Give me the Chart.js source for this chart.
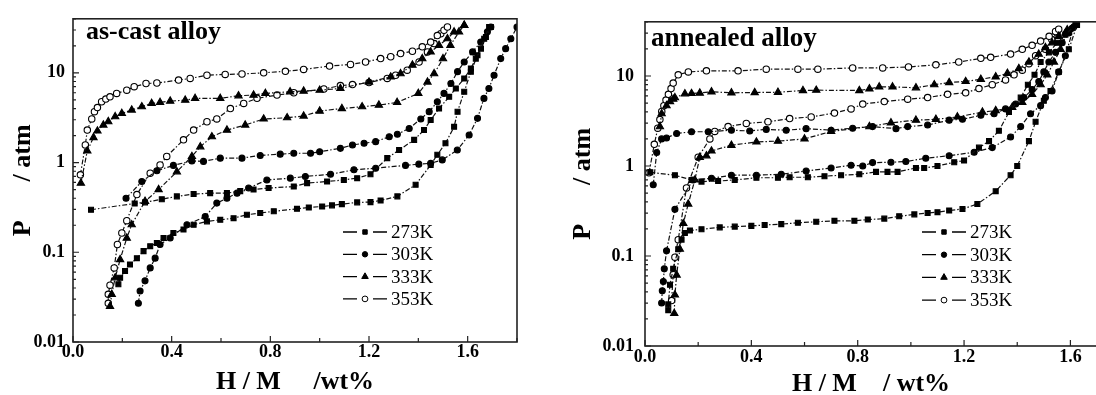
<!DOCTYPE html>
<html><head><meta charset="utf-8">
<script src="https://cdn.jsdelivr.net/npm/chart.js@4.4.1/dist/chart.umd.min.js"></script>
<style>
html,body{margin:0;padding:0;background:#fff;overflow:hidden;width:1096px;height:395px;position:relative;}
#c1{position:absolute;left:0;top:0;width:540px;height:395px;}
#c2{position:absolute;left:545px;top:0;width:560px;height:395px;}
</style></head><body>
<canvas id="c1" width="540" height="395"></canvas>
<canvas id="c2" width="560" height="395"></canvas>
<script>
// ---------- data: [H/M wt%, P atm] ----------
const temps = ['273K', '303K', '333K', '353K'];
const yTickValues = [0.01, 0.1, 1, 10];
const xTickValues = [0, 0.4, 0.8, 1.2, 1.6];

// as-cast alloy
const cast273Abs = [[0.073,0.298],[0.25,0.35],[0.292,0.36],[0.36,0.39],[0.421,0.42],[0.489,0.445],[0.556,0.456],[0.624,0.456],[0.678,0.48],[0.732,0.50],[0.793,0.52],[0.895,0.54],[0.949,0.59],[1.03,0.615],[1.098,0.64],[1.152,0.67],[1.206,0.74],[1.274,1.12],[1.322,1.38],[1.383,1.79],[1.423,2.3],[1.45,2.98],[1.484,4.0],[1.525,5.4],[1.552,6.7],[1.586,8.65],[1.613,11.2],[1.633,14.4],[1.654,18.6],[1.674,25.1],[1.694,32.4]];
const cast273Des = [[0.184,0.044],[0.191,0.052],[0.211,0.062],[0.231,0.073],[0.259,0.086],[0.286,0.103],[0.313,0.117],[0.34,0.127],[0.367,0.144],[0.407,0.164],[0.448,0.179],[0.489,0.203],[0.543,0.221],[0.597,0.23],[0.651,0.24],[0.705,0.262],[0.759,0.274],[0.814,0.286],[0.908,0.305],[0.956,0.316],[1.01,0.324],[1.05,0.333],[1.09,0.344],[1.152,0.36],[1.206,0.362],[1.247,0.378],[1.315,0.42],[1.389,0.565],[1.45,0.94],[1.477,1.22],[1.51,1.64],[1.545,2.5],[1.559,3.69],[1.586,6.15],[1.613,10.3],[1.64,15.7],[1.667,24],[1.687,32.4]];
const cast303Abs = [[0.215,0.40],[0.279,0.615],[0.34,0.81],[0.407,0.93],[0.482,1.04],[0.529,1.03],[0.597,1.12],[0.685,1.12],[0.759,1.2],[0.84,1.24],[0.895,1.27],[0.963,1.27],[1.0,1.32],[1.084,1.44],[1.133,1.57],[1.18,1.64],[1.227,1.71],[1.282,1.94],[1.315,2.07],[1.363,2.4],[1.41,3.06],[1.444,3.69],[1.477,4.76],[1.504,5.9],[1.532,7.6],[1.559,10.3],[1.586,13.2],[1.62,17.1],[1.653,22],[1.68,28.6],[1.694,32.4]];
const cast303Des = [[0.265,0.027],[0.272,0.037],[0.292,0.048],[0.313,0.067],[0.333,0.086],[0.353,0.122],[0.394,0.144],[0.462,0.203],[0.536,0.25],[0.583,0.353],[0.624,0.40],[0.665,0.456],[0.712,0.52],[0.786,0.64],[0.881,0.67],[0.942,0.70],[1.044,0.74],[1.139,0.83],[1.227,0.865],[1.348,0.93],[1.402,0.96],[1.45,0.98],[1.497,1.07],[1.558,1.38],[1.606,2.03],[1.64,3.11],[1.666,5.19],[1.686,6.7],[1.707,9.4],[1.734,14.4],[1.754,18.6],[1.775,24],[1.8,32.4]];
const cast333Abs = [[0.032,0.59],[0.058,1.35],[0.083,1.9],[0.099,2.25],[0.123,2.62],[0.143,2.86],[0.171,3.25],[0.198,3.53],[0.238,3.85],[0.279,4.19],[0.319,4.56],[0.353,4.68],[0.394,4.84],[0.455,4.96],[0.495,5.19],[0.597,5.19],[0.671,5.55],[0.732,5.65],[0.78,5.9],[0.88,6.15],[0.935,6.26],[1.0,6.4],[1.084,6.7],[1.2,7.9],[1.288,9.0],[1.328,9.8],[1.376,12.2],[1.416,14.4],[1.45,17.1],[1.484,20.3],[1.518,24],[1.545,28.6],[1.586,33.9]];
const cast333Des = [[0.15,0.025],[0.157,0.034],[0.171,0.052],[0.191,0.083],[0.218,0.144],[0.238,0.203],[0.292,0.37],[0.347,0.5],[0.421,0.79],[0.482,1.17],[0.516,1.5],[0.563,1.94],[0.624,2.3],[0.698,2.62],[0.773,3.06],[0.868,3.16],[0.935,3.3],[1.0,3.75],[1.09,4.0],[1.172,4.19],[1.24,4.37],[1.314,4.68],[1.4,5.9],[1.437,7.9],[1.464,9.8],[1.5,14.4],[1.53,20.3],[1.565,28.6],[1.586,33.9]];
const cast353Abs = [[0.03,0.73],[0.05,1.57],[0.058,2.3],[0.076,3.06],[0.087,3.69],[0.099,4.1],[0.116,4.76],[0.133,5.1],[0.15,5.4],[0.177,5.9],[0.218,6.4],[0.248,7.0],[0.296,7.6],[0.34,7.7],[0.428,8.3],[0.475,8.65],[0.543,9.4],[0.617,9.6],[0.685,9.7],[0.773,10],[0.861,10.4],[0.935,10.9],[1.04,11.9],[1.125,12.4],[1.186,13.2],[1.247,14.4],[1.288,15.1],[1.328,16.4],[1.376,17.4],[1.416,19.5],[1.45,22],[1.477,26],[1.504,29.8],[1.518,32.4]];
const cast353Des = [[0.143,0.027],[0.143,0.034],[0.15,0.043],[0.167,0.067],[0.18,0.122],[0.198,0.164],[0.218,0.225],[0.259,0.44],[0.313,0.76],[0.353,0.94],[0.38,1.17],[0.448,1.79],[0.489,2.3],[0.543,2.85],[0.583,3.06],[0.638,4.0],[0.692,4.56],[0.746,5.2],[0.827,5.65],[0.895,6.0],[1.017,6.6],[1.084,7.2],[1.133,7.4],[1.2,7.8],[1.274,8.65],[1.308,9.4],[1.355,10.7],[1.403,13.2],[1.437,17.1],[1.464,21.2],[1.491,27.3]];

// annealed alloy
const ann273Abs = [[0.02,0.85],[0.1125,0.79],[0.175,0.70],[0.2125,0.67],[0.275,0.68],[0.3375,0.70],[0.419,0.74],[0.5,0.74],[0.544,0.75],[0.6125,0.75],[0.675,0.77],[0.7375,0.79],[0.806,0.81],[0.869,0.86],[0.912,0.86],[0.95,0.86],[1.019,0.95],[1.05,0.95],[1.1,1.0],[1.163,1.1],[1.2,1.15],[1.256,1.6],[1.294,1.89],[1.331,2.46],[1.369,3.97],[1.413,5.75],[1.44,8.0],[1.465,10.3],[1.488,14.3],[1.519,18.3],[1.55,23.4],[1.581,28.8],[1.619,36.8]];
const ann273Des = [[0.0875,0.025],[0.0875,0.029],[0.094,0.048],[0.106,0.072],[0.125,0.119],[0.1375,0.152],[0.15,0.18],[0.169,0.192],[0.2125,0.198],[0.281,0.208],[0.3375,0.212],[0.4,0.216],[0.45,0.221],[0.5125,0.226],[0.575,0.234],[0.644,0.24],[0.7125,0.246],[0.7875,0.246],[0.838,0.254],[0.9,0.26],[0.956,0.276],[1.013,0.29],[1.063,0.30],[1.1,0.307],[1.144,0.32],[1.194,0.333],[1.25,0.378],[1.319,0.525],[1.375,0.79],[1.4,1.0],[1.444,1.89],[1.469,3.1],[1.5,5.3],[1.525,6.8],[1.556,11.1],[1.594,19.8],[1.625,36.8]];
const ann303Abs = [[0.031,0.62],[0.044,1.41],[0.0625,2.0],[0.081,2.05],[0.119,2.3],[0.175,2.4],[0.238,2.4],[0.325,2.5],[0.394,2.45],[0.456,2.55],[0.531,2.5],[0.606,2.6],[0.7,2.5],[0.781,2.63],[0.856,2.74],[0.944,2.6],[0.988,2.74],[1.063,2.85],[1.144,3.23],[1.194,3.3],[1.263,3.66],[1.313,3.81],[1.356,4.31],[1.394,4.88],[1.425,5.75],[1.456,7.07],[1.481,8.7],[1.5,11.1],[1.519,14.3],[1.544,18.3],[1.569,23.4],[1.594,30],[1.606,33.9]];
const ann303Des = [[0.0625,0.030],[0.065,0.041],[0.069,0.052],[0.0725,0.072],[0.081,0.114],[0.1125,0.33],[0.181,0.70],[0.25,0.73],[0.325,0.79],[0.419,0.79],[0.5125,0.81],[0.606,0.88],[0.7,0.95],[0.775,1.02],[0.819,1.0],[0.856,1.09],[0.925,1.10],[0.981,1.12],[1.056,1.22],[1.144,1.30],[1.238,1.42],[1.306,1.6],[1.375,2.1],[1.413,2.74],[1.45,3.81],[1.488,4.68],[1.506,5.75],[1.531,6.8],[1.556,11.1],[1.581,16.8],[1.613,35.3]];
const ann333Abs = [[0.056,2.74],[0.0625,3.81],[0.081,4.68],[0.094,5.2],[0.106,5.52],[0.1125,5.75],[0.15,6.35],[0.175,6.4],[0.206,6.46],[0.25,6.67],[0.325,6.5],[0.4125,6.55],[0.5,6.6],[0.594,6.9],[0.644,6.95],[0.806,6.9],[0.844,7.2],[0.881,7.56],[0.931,7.56],[1.019,7.4],[1.088,8.0],[1.144,8.47],[1.206,8.7],[1.263,9.2],[1.319,9.8],[1.363,10.7],[1.406,12.1],[1.444,14.3],[1.481,17.5],[1.506,20.7],[1.531,23.4],[1.556,27.6],[1.588,32.6]];
const ann333Des = [[0.11,0.023],[0.1125,0.037],[0.119,0.0615],[0.131,0.119],[0.144,0.23],[0.1625,0.378],[0.1875,0.70],[0.206,1.25],[0.231,1.30],[0.25,1.47],[0.325,1.7],[0.419,1.85],[0.5,1.89],[0.6,2.0],[0.7,2.42],[0.844,2.74],[0.925,3.02],[1.019,3.23],[1.094,3.3],[1.175,3.51],[1.269,3.97],[1.319,4.13],[1.381,4.49],[1.419,5.08],[1.456,6.25],[1.488,8.0],[1.513,10.3],[1.538,14.3],[1.563,19.8],[1.581,30]];
const ann353Abs = [[0.015,0.84],[0.035,1.74],[0.048,2.63],[0.056,3.28],[0.063,4.04],[0.071,4.68],[0.079,5.4],[0.088,6.25],[0.098,7.25],[0.106,8.34],[0.125,10.3],[0.163,11.1],[0.231,11.4],[0.35,11.4],[0.456,11.9],[0.575,11.9],[0.65,11.9],[0.781,12.3],[0.894,12.3],[0.991,12.6],[1.094,13.3],[1.18,14.3],[1.263,15.7],[1.3,16.1],[1.375,17.5],[1.419,19.8],[1.456,21.9],[1.488,24.4],[1.52,27.6],[1.544,31.2],[1.556,33.1]];
const ann353Des = [[0.1,0.032],[0.106,0.062],[0.1125,0.097],[0.125,0.152],[0.156,0.57],[0.2,1.25],[0.244,2.0],[0.2625,2.42],[0.3125,2.74],[0.381,2.97],[0.4625,3.1],[0.544,3.36],[0.625,3.51],[0.7125,3.87],[0.775,4.31],[0.819,4.88],[0.9,5.2],[0.988,5.52],[1.063,5.75],[1.138,6.25],[1.206,6.5],[1.256,7.25],[1.306,8.0],[1.356,9.05],[1.388,10.3],[1.419,11.6],[1.444,13.7],[1.469,16.8],[1.506,19.8],[1.53,25.4],[1.55,30]];

// ---------- styles ----------
const SERIF = "'Liberation Serif', 'Times New Roman', serif";
const markerStyle = {
  '273K': {pointStyle: 'rect', radius: 3.5, fill: '#000'},
  '303K': {pointStyle: 'circle', radius: 3.0, fill: '#000'},
  '333K': {pointStyle: 'triangle', radius: 4.2, fill: '#000'},
  '353K': {pointStyle: 'circle', radius: 3.2, fill: '#fff'}
};

function ds(points, temp) {
  const m = markerStyle[temp];
  return {
    label: temp,
    data: points.map(p => ({x: p[0], y: p[1]})),
    borderColor: '#111', borderWidth: 1.2, borderDash: [5, 2, 1.5, 2],
    pointStyle: m.pointStyle, pointRadius: m.radius,
    pointBackgroundColor: m.fill, pointBorderColor: '#000', pointBorderWidth: 1.1,
    showLine: true, fill: false, tension: 0
  };
}

const framePlugin = {
  id: 'frame',
  afterDraw(chart, args, o) {
    const {ctx, chartArea: a, scales: {x, y}} = chart;
    ctx.save();
    ctx.setLineDash([]);
    ctx.strokeStyle = '#222';
    ctx.lineWidth = 1.6;
    ctx.strokeRect(a.left, a.top, a.right - a.left, a.bottom - a.top);
    ctx.lineWidth = 1.2;
    ctx.beginPath();
    for (let k = -2; k <= 1; k++) {
      for (let m = 1; m <= 9; m++) {
        const v = m * Math.pow(10, k);
        if (v > y.max) continue;
        const py = y.getPixelForValue(v);
        const len = m === 1 ? 6 : 3;
        ctx.moveTo(a.left, py); ctx.lineTo(a.left + len, py);
      }
    }
    for (let i = 0; i * 0.2 <= x.max + 1e-9; i++) {
      const px = x.getPixelForValue(i * 0.2);
      const len = i % 2 === 0 ? 6 : 4;
      ctx.moveTo(px, a.bottom); ctx.lineTo(px, a.bottom - len);
    }
    ctx.stroke();
    // panel title
    ctx.fillStyle = '#000';
    ctx.font = 'bold ' + o.titleSize + 'px ' + SERIF;
    ctx.textBaseline = 'alphabetic';
    ctx.textAlign = 'left';
    ctx.fillText(o.title, a.left + o.tx, a.top + o.ty);
    // legend
    temps.forEach((t, i) => {
      const yy = o.ly + i * o.ldy;
      const lx = o.lx;
      ctx.strokeStyle = '#000'; ctx.lineWidth = 1.3;
      ctx.beginPath();
      ctx.moveTo(lx, yy); ctx.lineTo(lx + 14, yy);
      ctx.moveTo(lx + 30, yy); ctx.lineTo(lx + 44, yy);
      ctx.stroke();
      const m = markerStyle[t];
      ctx.fillStyle = m.fill; ctx.strokeStyle = '#000'; ctx.lineWidth = 1;
      Chart.helpers.drawPoint(ctx, {pointStyle: m.pointStyle, radius: m.radius * 0.9, rotation: 0, borderWidth: 1}, lx + 22, yy);
      ctx.fillStyle = '#000';
      ctx.font = '19px ' + SERIF;
      ctx.textBaseline = 'middle';
      ctx.fillText(t, lx + 48, yy + 1);
    });
    ctx.restore();
  }
};

function makeChart(id, sets, cfg) {
  return new Chart(document.getElementById(id), {
    type: 'line',
    data: {datasets: sets},
    plugins: [framePlugin],
    options: {
      responsive: false, animation: false, events: [],
      layout: {padding: {top: cfg.top, right: cfg.right, left: 0, bottom: 0}},
      plugins: {legend: {display: false}, tooltip: {enabled: false}, frame: cfg.frame},
      scales: {
        x: {
          type: 'linear', min: 0, max: cfg.xmax,
          afterBuildTicks: s => { s.ticks = xTickValues.map(v => ({value: v})); },
          afterFit: s => { s.height = cfg.xh; },
          grid: {display: false, drawTicks: false}, border: {display: false},
          ticks: {font: {family: SERIF, weight: 'bold', size: 18}, color: '#000', padding: cfg.xpad, maxRotation: 0, autoSkip: false,
                  callback: v => Number(v).toFixed(1)},
          title: {display: true, text: cfg.xtitle, color: '#000', padding: 0,
                  font: {family: SERIF, weight: 'bold', size: 26, lineHeight: cfg.xlh}}
        },
        y: {
          type: 'logarithmic', min: 0.01, max: 40,
          afterBuildTicks: s => { s.ticks = yTickValues.map(v => ({value: v})); },
          afterFit: s => { s.width = cfg.yw; },
          grid: {display: false, drawTicks: false}, border: {display: false},
          ticks: {font: {family: SERIF, weight: 'bold', size: 18}, color: '#000', padding: cfg.ypad, autoSkip: false,
                  callback: v => String(v)},
          title: {display: true, text: 'P      / atm', color: '#000', padding: {top: cfg.ytp, bottom: 0},
                  font: {family: SERIF, weight: 'bold', size: 26, lineHeight: 1}}
        }
      }
    }
  });
}

makeChart('c1', [
  ds(cast273Abs, '273K'), ds(cast273Des, '273K'),
  ds(cast303Abs, '303K'), ds(cast303Des, '303K'),
  ds(cast333Abs, '333K'), ds(cast333Des, '333K'),
  ds(cast353Abs, '353K'), ds(cast353Des, '353K')
], {top: 16, right: 23, xmax: 1.8, xh: 53, xpad: 0, xlh: 0.95, yw: 73, ypad: 8, ytp: 10,
    xtitle: 'H / M     /wt%',
    frame: {title: 'as-cast alloy', titleSize: 26, tx: 13, ty: 20, lx: 343, ly: 232, ldy: 22.3}});

makeChart('c2', [
  ds(ann273Abs, '273K'), ds(ann273Des, '273K'),
  ds(ann303Abs, '303K'), ds(ann303Des, '303K'),
  ds(ann333Abs, '333K'), ds(ann333Des, '333K'),
  ds(ann353Abs, '353K'), ds(ann353Des, '353K')
], {top: 9, right: 8, xmax: 1.7, xh: 49, xpad: 1, xlh: 0.85, yw: 100, ypad: 11, ytp: 25,
    xtitle: 'H / M    / wt%',
    frame: {title: 'annealed alloy', titleSize: 27, tx: 6, ty: 24, lx: 377, ly: 232, ldy: 22.7}});
</script>
</body></html>
